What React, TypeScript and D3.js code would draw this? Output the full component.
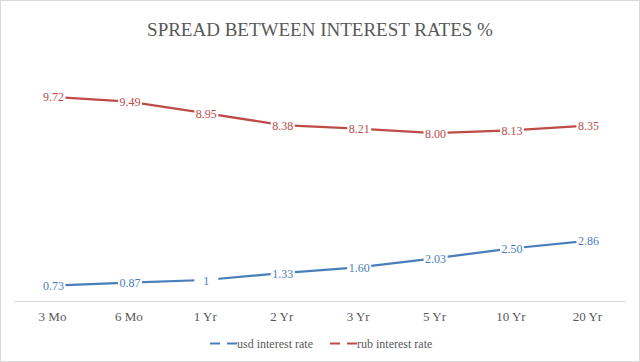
import { useRef, useEffect } from 'react';
import * as d3 from 'd3';

const W = 640;
const H = 362;

const categories = ['3 Mo', '6 Mo', '1 Yr', '2 Yr', '3 Yr', '5 Yr', '10 Yr', '20 Yr'];
const usdValues = [0.73, 0.87, 1, 1.33, 1.6, 2.03, 2.5, 2.86];
const usdLabels = ['0.73', '0.87', '1', '1.33', '1.60', '2.03', '2.50', '2.86'];
const rubValues = [9.72, 9.49, 8.95, 8.38, 8.21, 8.0, 8.13, 8.35];
const rubLabels = ['9.72', '9.49', '8.95', '8.38', '8.21', '8.00', '8.13', '8.35'];

const series = [
  { name: 'usd interest rate', values: usdValues, labels: usdLabels, color: '#4a7ebb' },
  { name: 'rub interest rate', values: rubValues, labels: rubLabels, color: '#be4b48' },
];

const FONT = '"Liberation Serif", "Times New Roman", serif';

export default function App() {
  const svgRef = useRef<SVGSVGElement>(null);

  useEffect(() => {
    const svg = d3.select(svgRef.current);
    svg.selectAll('*').remove();

    // chart frame
    svg.append('rect')
      .attr('x', 0.5).attr('y', 0.5)
      .attr('width', W - 1).attr('height', H - 1)
      .attr('fill', '#fff').attr('stroke', '#d9d9d9');

    svg.append('text')
      .attr('x', 320).attr('y', 36)
      .attr('text-anchor', 'middle')
      .attr('font-family', FONT).attr('font-size', '19px')
      .attr('fill', '#595959')
      .text('SPREAD BETWEEN  INTEREST RATES %');

    const x = d3.scaleBand().domain(categories).range([14.3, 625.6]);
    const y = d3.scaleLinear().domain([0, 12]).range([301, 49]);
    const cx = (c: string) => (x(c) as number) + x.bandwidth() / 2;

    // axis line
    svg.append('line')
      .attr('x1', 14.3).attr('x2', 625.6)
      .attr('y1', 301.5).attr('y2', 301.5)
      .attr('stroke', '#d9d9d9').attr('stroke-width', 1);

    svg.append('g').selectAll('text')
      .data(categories)
      .join('text')
      .attr('x', d => cx(d))
      .attr('y', 321)
      .attr('text-anchor', 'middle')
      .attr('font-family', FONT).attr('font-size', '13px')
      .attr('fill', '#595959')
      .text(d => d);

    const line = d3.line<number>()
      .x((_, i) => cx(categories[i]))
      .y(d => y(d));

    series.forEach(s => {
      svg.append('path')
        .datum(s.values)
        .attr('fill', 'none')
        .attr('stroke', s.color)
        .attr('stroke-width', 2.25)
        .attr('d', line);

      const lbl = svg.append('g').selectAll('g')
        .data(s.values)
        .join('g')
        .attr('transform', (d, i) => `translate(${cx(categories[i]) + 1},${y(d)})`);
      lbl.append('rect')
        .attr('x', -12).attr('y', -7)
        .attr('width', 24).attr('height', 14)
        .attr('fill', '#fff');
      lbl.append('text')
        .attr('y', 4.5)
        .attr('text-anchor', 'middle')
        .attr('font-family', FONT).attr('font-size', '12px')
        .attr('fill', s.color)
        .text((_, i) => s.labels[i]);
    });

    // legend
    const legendX = [210, 330];
    series.forEach((s, i) => {
      const g = svg.append('g').attr('transform', `translate(${legendX[i]},343.5)`);
      g.append('line').attr('x1', 0).attr('x2', 10).attr('stroke', s.color).attr('stroke-width', 2);
      g.append('line').attr('x1', 17).attr('x2', 27).attr('stroke', s.color).attr('stroke-width', 2);
      g.append('text')
        .attr('x', 27).attr('y', 4)
        .attr('font-family', FONT).attr('font-size', '12px')
        .attr('fill', '#595959')
        .text(s.name);
    });
  }, []);

  return (
    <div style={{ position: 'absolute', left: 0, top: 0 }}>
      <svg ref={svgRef} width={W} height={H} style={{ display: 'block' }} />
    </div>
  );
}
